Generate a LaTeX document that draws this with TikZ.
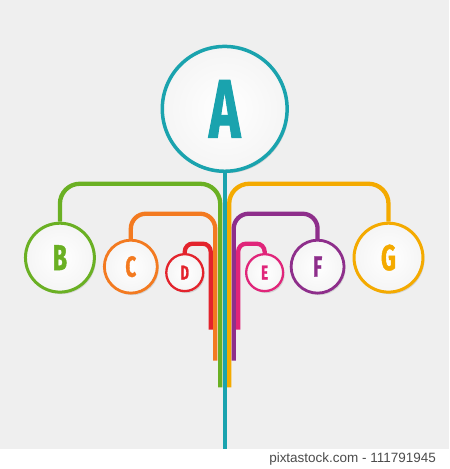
\documentclass[tikz,border=0pt]{standalone}
\usepackage{fontspec}
\setsansfont{Liberation Sans}
\newfontfamily\letterfont[FakeStretch=0.64, BoldFeatures={FakeBold=1.2}]{Fira Sans}
\usetikzlibrary{shadows}

\definecolor{bgGray}{HTML}{EFEFEF}
\definecolor{cTeal}{HTML}{1AA3AE}
\definecolor{cGreen}{HTML}{6AB023}
\definecolor{cOrange}{HTML}{F37A20}
\definecolor{cRed}{HTML}{E3232C}
\definecolor{cMagenta}{HTML}{E0257A}
\definecolor{cPurple}{HTML}{8E2E8B}
\definecolor{cYellow}{HTML}{F4AA00}

\begin{document}
\begin{tikzpicture}[x=1pt, y=-1pt]
	\tikzstyle{bubble}=[circle, inner sep=0pt, inner color=white, outer color=black!4,
		drop shadow={opacity=0.25, shadow xshift=1.5pt, shadow yshift=-2pt}];
	\tikzstyle{wire}=[line width=4.3pt];

	\fill[bgGray] (0,0) rectangle (450,469);
	\fill[white] (0,450) rectangle (450,469);

	% circles
	\node[bubble, draw=cTeal, line width=3.5pt, minimum size=125pt, text=cTeal,
		font=\letterfont\bfseries\fontsize{83}{83}\selectfont] (a) at (225,109) {A};
	\node[bubble, draw=cGreen, line width=3pt, minimum size=69pt, text=cGreen,
		font=\letterfont\bfseries\fontsize{36}{36}\selectfont] (b) at (60,258) {B};
	\node[bubble, draw=cOrange, line width=2.8pt, minimum size=53pt, text=cOrange,
		font=\letterfont\bfseries\fontsize{29}{29}\selectfont] (c) at (131,267) {C};
	\node[bubble, draw=cRed, line width=2.3pt, minimum size=37pt, text=cRed,
		font=\letterfont\bfseries\fontsize{20}{20}\selectfont] (d) at (185,273) {D};
	\node[bubble, draw=cMagenta, line width=2.3pt, minimum size=37pt, text=cMagenta,
		font=\letterfont\bfseries\fontsize{20}{20}\selectfont] (e) at (265,273) {E};
	\node[bubble, draw=cPurple, line width=2.8pt, minimum size=53pt, text=cPurple,
		font=\letterfont\bfseries\fontsize{29}{29}\selectfont] (f) at (318,267) {F};
	\node[bubble, draw=cYellow, line width=3pt, minimum size=69pt, text=cYellow,
		font=\letterfont\bfseries\fontsize{36}{36}\selectfont] (g) at (389,258) {G};

	% bar ends
	\coordinate (tEnd) at (225,450);
	\coordinate (gEnd) at (220.5,388);
	\coordinate (yEnd) at (229.5,388);
	\coordinate (oEnd) at (215.5,361);
	\coordinate (pEnd) at (234,361);
	\coordinate (rEnd) at (211,330);
	\coordinate (mEnd) at (238.5,330);

	% connectors
	\draw[wire, cTeal] (a.south) -- (tEnd);
	\draw[wire, cGreen, rounded corners=20pt] (b.north) |- (220.5,184) -- (gEnd);
	\draw[wire, cYellow, rounded corners=20pt] (g.north) |- (229.5,184) -- (yEnd);
	\draw[wire, cOrange, rounded corners=15pt] (c.north) |- (215.5,214) -- (oEnd);
	\draw[wire, cPurple, rounded corners=15pt] (f.north) |- (234,214) -- (pEnd);
	\draw[wire, cRed, rounded corners=8pt] (d.north) |- (211,244) -- (rEnd);
	\draw[wire, cMagenta, rounded corners=8pt] (e.north) |- (238.5,244) -- (mEnd);

	\node[anchor=east, text=black!70, font=\sffamily\fontsize{13.5}{13.5}\selectfont] (credit) at (440,460) {pixtastock.com - 111791945};
\end{tikzpicture}
\end{document}
